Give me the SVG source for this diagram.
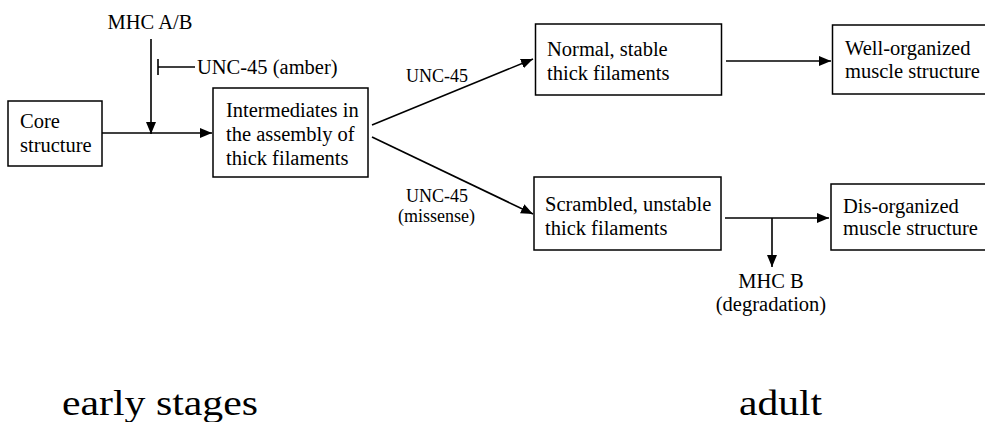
<svg xmlns="http://www.w3.org/2000/svg" width="985" height="422" viewBox="0 0 985 422">
<style>
rect.box{fill:#fff;stroke:#000;stroke-width:1.5}
text{font-family:'Liberation Serif','Times New Roman',Times,serif;fill:#000}
.t{font-size:20.5px}
.s{font-size:18px}
.big{font-size:36px}
.ln{stroke:#000;stroke-width:1.6;fill:none}
.ar{marker-end:url(#ah)}
</style>
<defs>
<marker id="ah" markerUnits="userSpaceOnUse" markerWidth="13" markerHeight="11" refX="12" refY="5" orient="auto">
<path d="M0,0 L12,5 L0,10 z" fill="#000"/>
</marker>
</defs>
<rect width="985" height="422" fill="#fff"/>
<g id="connectors">
<line class="ln ar" x1="102" y1="133" x2="212" y2="133"/>
<line class="ln ar" x1="151" y1="39" x2="151" y2="134"/>
<line class="ln" x1="158" y1="59" x2="158" y2="75"/>
<line class="ln" x1="158" y1="67" x2="195" y2="67"/>
<line class="ln ar" x1="372" y1="125" x2="533" y2="59"/>
<line class="ln ar" x1="372" y1="137" x2="533" y2="214"/>
<line class="ln ar" x1="726" y1="61" x2="831" y2="61"/>
<line class="ln ar" x1="725" y1="218" x2="829" y2="218"/>
<line class="ln ar" x1="772" y1="218" x2="772" y2="267"/>
<text class="t" x="150" y="29" text-anchor="middle">MHC A/B</text>
<text class="t" x="197" y="74">UNC-45 (amber)</text>
<text class="s" x="406" y="82">UNC-45</text>
<text class="s" x="406" y="202">UNC-45</text>
<text class="s" x="398" y="222">(missense)</text>
<text class="t" x="771" y="288" text-anchor="middle">MHC B</text>
<text class="t" x="771" y="311" text-anchor="middle">(degradation)</text>
</g>
<g id="core">
<rect class="box" x="8" y="101" width="94" height="65"/>
<text class="t" x="20" y="128">Core</text>
<text class="t" x="20" y="152">structure</text>
</g>
<g id="intermediates">
<rect class="box" x="213" y="88" width="155" height="89"/>
<text class="t" x="226" y="117">Intermediates in</text>
<text class="t" x="226" y="141">the assembly of</text>
<text class="t" x="226" y="165">thick filaments</text>
</g>
<g id="normal">
<rect class="box" x="535.5" y="24" width="186" height="71"/>
<text class="t" x="547" y="56">Normal, stable</text>
<text class="t" x="547" y="80">thick filaments</text>
</g>
<g id="scrambled">
<rect class="box" x="534" y="177" width="187" height="73"/>
<text class="t" x="545" y="211">Scrambled, unstable</text>
<text class="t" x="545" y="235">thick filaments</text>
</g>
<g id="well">
<rect class="box" x="832.5" y="25" width="160" height="69"/>
<text class="t" x="845" y="55">Well-organized</text>
<text class="t" x="845" y="78">muscle structure</text>
</g>
<g id="dis">
<rect class="box" x="831" y="184" width="160" height="66"/>
<text class="t" x="843" y="213">Dis-organized</text>
<text class="t" x="843" y="235">muscle structure</text>
</g>
<g id="stages">
<text class="big" x="62" y="415" textLength="196" lengthAdjust="spacingAndGlyphs">early stages</text>
<text class="big" x="739" y="415" textLength="83" lengthAdjust="spacingAndGlyphs">adult</text>
</g>
</svg>
